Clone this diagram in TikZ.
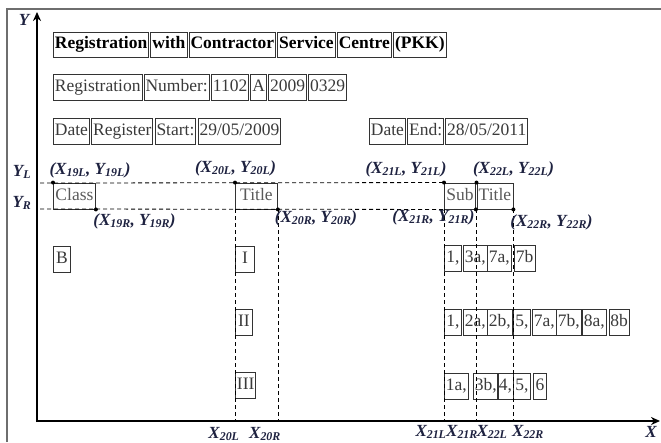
\documentclass[tikz,border=0pt]{standalone}
\usepackage{fontspec}
\setmainfont{Liberation Serif}
\usepackage{xcolor}
\definecolor{frameline}{HTML}{6E6E6E}
\definecolor{boxline}{HTML}{333333}
\definecolor{cellink}{HTML}{3A3A3A}
\definecolor{softink}{HTML}{5A5A5A}
\definecolor{labink}{HTML}{1E2240}
\usepackage{tikz}
\usetikzlibrary{arrows.meta,positioning}
\newcommand{\cellfont}{\fontsize{17.5}{20}\selectfont}
\newcommand{\labfont}{\fontsize{17}{20}\selectfont\bfseries\itshape}
\newcommand{\labsub}[2]{#1\textsubscript{#2}}

\begin{document}
\begin{tikzpicture}[
  x=1pt, y=-1pt,
  node distance=1.5pt and 1.2pt,
  cell/.style={draw=boxline,line width=0.9pt,inner xsep=1.5pt,inner ysep=0pt,
    minimum height=26pt,text height=12.5pt,text depth=4pt,font=\cellfont,text=cellink},
  head/.style={cell,font=\cellfont\bfseries,text=black,minimum height=25pt},
  field/.style={cell,text=softink,minimum width=31pt},
  item/.style={cell,minimum width=17pt},
  lab/.style={font=\labfont,text=labink,inner sep=0pt},
  guide/.style={dash pattern=on 4pt off 3pt,line width=0.8pt,black},
  axis/.style={line width=2.4pt,-{Stealth[length=9pt,width=8pt]}}]
  \useasboundingbox (0,0) rectangle (661,442);
  \draw[frameline,line width=1.3pt] (7,442) -- (7,9) -- (661,9);

  % header rows
  \node[head,anchor=west] (reg) at (53,44.5) {Registration};
  \node[head,right=of reg] (with) {with};
  \node[head,right=of with] (contractor) {Contractor};
  \node[head,right=of contractor] (service) {Service};
  \node[head,right=of service] (centre) {Centre};
  \node[head,right=of centre] (pkk) {(PKK)};

  \node[cell,anchor=west] (regno) at (53,87) {Registration};
  \node[cell,right=of regno] (number) {Number:};
  \node[cell,right=of number] (n1102) {1102};
  \node[cell,right=of n1102] (na) {A};
  \node[cell,right=of na] (n2009) {2009};
  \node[cell,right=of n2009] (n0329) {0329};

  \node[cell,anchor=west] (date) at (53,131) {Date};
  \node[cell,right=of date] (register) {Register};
  \node[cell,right=of register] (start) {Start:};
  \node[cell,right=of start] (startdate) {29/05/2009};
  \node[cell,anchor=west] (dateb) at (369,131) {Date};
  \node[cell,right=of dateb] (end) {End:};
  \node[cell,right=of end] (enddate) {28/05/2011};

  % fields
  \node[field,anchor=west,minimum width=42pt] (class) at (53,196) {Class};
  \node[field,anchor=west,minimum width=42pt] (title) at (235,196) {Title};
  \node[field,anchor=west] (sub) at (444,196) {Sub};
  \node[field,anchor=west,minimum width=36pt] (subtitle) at (476.5,196) {Title};

  % items
  \node[item,anchor=west] (b) at (53,259) {B};
  \node[item,anchor=west,minimum width=19pt] (r1) at (235,259) {I};
  \node[item,anchor=west] (r2) at (235,322) {II};
  \node[item,anchor=west] (r3) at (235,385.5) {III};

  \node[item,anchor=west] (a1) at (444,258.5) {1,};
  \node[item,anchor=west] (a2) at (463,258.5) {3a,};
  \node[item,anchor=west] (a3) at (487,258.5) {7a,};
  \node[item,anchor=west] (a4) at (514,258.5) {7b};

  \node[item,anchor=west] (c1) at (444,322.5) {1,};
  \node[item,anchor=west] (c2) at (463,322.5) {2a,};
  \node[item,anchor=west] (c3) at (487,322.5) {2b,};
  \node[item,anchor=west] (c4) at (513,322.5) {5,};
  \node[item,anchor=west] (c5) at (532,322.5) {7a,};
  \node[item,anchor=west] (c6) at (556,322.5) {7b,};
  \node[item,anchor=west] (c7) at (582,322.5) {8a,};
  \node[item,anchor=west] (c8) at (608.5,322.5) {8b};

  \node[item,anchor=west] (d1) at (444,386.5) {1a,};
  \node[item,anchor=west] (d2) at (473,386.5) {3b,};
  \node[item,anchor=west,minimum width=15pt] (d3) at (497,386.5) {4,};
  \node[item,anchor=west] (d4) at (513,386.5) {5,};
  \node[item,anchor=west,minimum width=13pt] (d5) at (533,386.5) {6};

  % axes
  \coordinate (origin) at (37,421);
  \coordinate (ytip) at (37,12);
  \coordinate (xtip) at (660,421);
  \draw[axis] ([yshift=-1.2pt]origin) -- (ytip);
  \draw[axis] ([xshift=-1.2pt]origin) -- (xtip);

  % guide lines
  \coordinate (yl) at (40,183);
  \coordinate (yr) at (40,209);
  \draw[guide] (yl) -- (sub.north west);
  \draw[guide] (yr) -- (sub.south west);
  \draw[guide] (title.south west) -- (title.south west |- origin);
  \draw[guide] (title.south east) -- (title.south east |- origin);
  \draw[guide] (sub.south west) -- (sub.south west |- origin);
  \draw[guide] (sub.south east) -- (sub.south east |- origin);
  \draw[guide] (subtitle.south west) -- (subtitle.south west |- origin);
  \draw[guide] (subtitle.south east) -- (subtitle.south east |- origin);

  % corner points
  \foreach \n in {class,title,sub,subtitle}{
    \fill (\n.north west) circle[radius=2pt];
    \fill (\n.south east) circle[radius=2pt];
  }

  % labels
  \node[lab] (y) at (24,20) {Y};
  \node[lab,anchor=east] (x) at (657,432) {X};
  \node[lab] (ylab) at (22,172) {\labsub{Y}{L}};
  \node[lab] (yrlab) at (22,203) {\labsub{Y}{R}};
  \node[lab] (p19l) at (90,170) {(\labsub{X}{19L}, \labsub{Y}{19L})};
  \node[lab] (p19r) at (134.5,221) {(\labsub{X}{19R}, \labsub{Y}{19R})};
  \node[lab] (p20l) at (235.5,168) {(\labsub{X}{20L}, \labsub{Y}{20L})};
  \node[lab] (p20r) at (316,218) {(\labsub{X}{20R}, \labsub{Y}{20R})};
  \node[lab] (p21l) at (406,169) {(\labsub{X}{21L}, \labsub{Y}{21L})};
  \node[lab] (p22l) at (513.5,169) {(\labsub{X}{22L}, \labsub{Y}{22L})};
  \node[lab] (p21r) at (433.5,217) {(\labsub{X}{21R}, \labsub{Y}{21R})};
  \node[lab] (p22r) at (551.5,222) {(\labsub{X}{22R}, \labsub{Y}{22R})};
  \node[lab] (x20l) at (224,434) {\labsub{X}{20L}};
  \node[lab] (x20r) at (265,434) {\labsub{X}{20R}};
  \node[lab] (x21l) at (431,432) {\labsub{X}{21L}};
  \node[lab] (x21r) at (462,432) {\labsub{X}{21R}};
  \node[lab] (x22l) at (492,432) {\labsub{X}{22L}};
  \node[lab] (x22r) at (528,432) {\labsub{X}{22R}};
\end{tikzpicture}
\end{document}
